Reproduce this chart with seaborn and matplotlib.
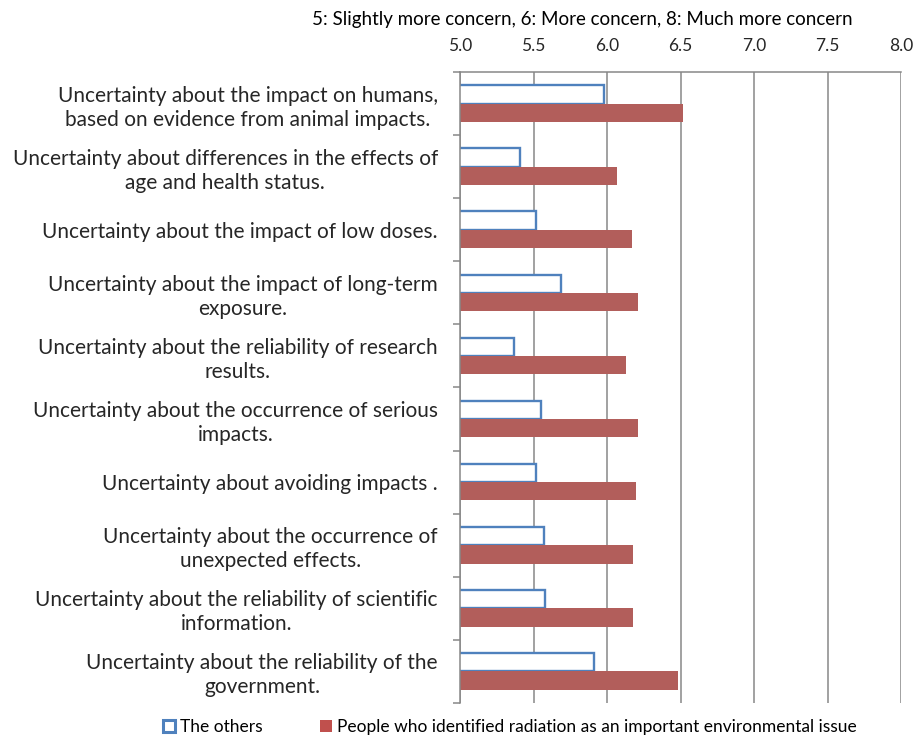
import pandas as pd
import seaborn as sns
import matplotlib.pyplot as plt
from matplotlib.patches import Patch
from matplotlib.ticker import FixedLocator

# -------- data --------
items = [
    "Uncertainty about the impact on humans,\nbased on evidence from animal impacts.",
    "Uncertainty about differences in the effects of\nage and health status.",
    "Uncertainty about the impact of low doses.",
    "Uncertainty about the impact of long-term\nexposure.",
    "Uncertainty about the reliability of research\nresults.",
    "Uncertainty about the occurrence of serious\nimpacts.",
    "Uncertainty about avoiding impacts .",
    "Uncertainty about the occurrence of\nunexpected effects.",
    "Uncertainty about the reliability of scientific\ninformation.",
    "Uncertainty about the reliability of the\ngovernment.",
]
others = [5.98, 5.41, 5.52, 5.69, 5.37, 5.55, 5.52, 5.57, 5.58, 5.91]
radiation = [6.52, 6.07, 6.17, 6.21, 6.13, 6.21, 6.20, 6.18, 6.18, 6.48]
groups = ["The others", "People who identified radiation as an important environmental issue"]
xticks = [5.0, 5.5, 6.0, 6.5, 7.0, 7.5, 8.0]
scale_note = "5: Slightly more concern, 6: More concern, 8: Much more concern"

BLUE = "#4F81BD"
RED = "#C0504D"
GRID = "#878787"

df = pd.DataFrame({
    "item": items * 2,
    "score": others + radiation,
    "group": [groups[0]] * len(items) + [groups[1]] * len(items),
})

# -------- plot --------
sns.set_style("white")
plt.rcParams["font.family"] = ["Lato", "DejaVu Sans"]
plt.rcParams["text.color"] = "black"

fig = plt.figure(figsize=(9.22, 7.35), dpi=100)
ax = fig.add_axes([460 / 922, 1 - 703 / 735, 441 / 922, (703 - 72) / 735])

sns.barplot(data=df, y="item", x="score", hue="group", hue_order=groups,
            orient="h", width=0.58, palette=[BLUE, RED], ax=ax, legend=False)

# hollow bars for "The others"
for p in ax.containers[0]:
    p.set_facecolor("white")
    p.set_edgecolor(BLUE)
    p.set_linewidth(1.7)
for p in ax.containers[1]:
    p.set_linewidth(0)

ax.set_xlim(5.0, 8.0)
ax.set_ylim(len(items) - 0.5, -0.5)
ax.set_xticks(xticks)
ax.set_xticklabels([f"{t:.1f}" for t in xticks], fontsize=12.5)
ax.xaxis.tick_top()
ax.tick_params(axis="x", length=0, pad=13)
ax.set_xlabel("")
ax.set_ylabel("")

ax.grid(axis="x", color=GRID, linewidth=1.1)
ax.set_axisbelow(True)

ax.tick_params(axis="y", which="major", length=0, pad=16, labelsize=15)
for lab in ax.get_yticklabels():
    lab.set_multialignment("center")
    lab.set_linespacing(1.25)
ax.yaxis.set_minor_locator(FixedLocator([i - 0.5 for i in range(len(items) + 1)]))
ax.tick_params(axis="y", which="minor", length=5, color=GRID, width=1.1, left=True)

for s in ["right", "bottom"]:
    ax.spines[s].set_visible(False)
for s in ["left", "top"]:
    ax.spines[s].set_color(GRID)
    ax.spines[s].set_linewidth(1.1)

fig.text(582 / 922, 1 - 20 / 735, scale_note, ha="center", va="center", fontsize=13.5)

handles = [Patch(facecolor="white", edgecolor=BLUE, linewidth=2.2),
           Patch(facecolor=RED, edgecolor="none")]
fig.legend(handles, groups, loc="center", bbox_to_anchor=(510 / 922, 8 / 735),
           ncol=2, frameon=False, fontsize=12.5, handlelength=0.7, handleheight=0.7,
           handletextpad=0.3, columnspacing=3.3, borderpad=0)

fig.savefig("out.png", dpi=100)
